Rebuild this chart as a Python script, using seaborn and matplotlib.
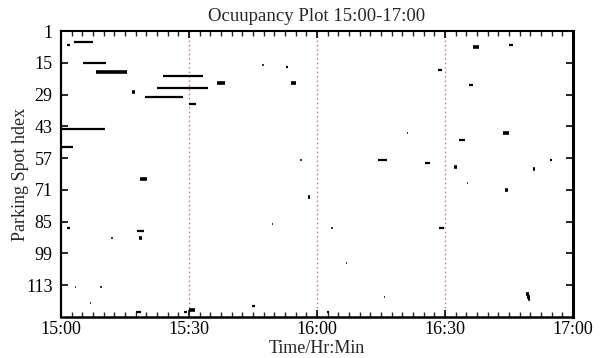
import numpy as np
import pandas as pd
import matplotlib
matplotlib.use("Agg")
import matplotlib.pyplot as plt
from matplotlib.ticker import MultipleLocator, FixedLocator
import seaborn as sns

# ---- data (minutes after 15:00, parking spot index) ----
spot = [7, 6, 15, 19, 28, 21, 26, 30, 33, 44, 52,
        16, 17, 24, 24, 58, 58,
        8, 7, 18, 25, 46, 49, 46, 59, 61, 62, 58,
        68, 71, 88, 117, 118, 119,
        74, 86, 88, 103, 118, 122, 125, 124,
        66, 88, 92, 89, 92, 114, 114, 121, 125, 125]
start = [1.5, 3.0, 5.2, 8.2, 16.6, 24.0, 22.4, 19.7, 29.9, 0.3, 0.3,
         47.0, 52.7, 36.5, 53.9, 56.0, 74.3,
         96.5, 104.9, 88.4, 95.7, 81.0, 93.2, 103.6, 85.3, 92.1, 110.6, 114.6,
         95.2, 104.1, 88.6, 109.1, 109.2, 109.4,
         57.8, 49.5, 63.3, 66.8, 75.6, 44.8, 62.3, 30.1,
         18.5, 1.3, 11.8, 17.9, 18.3, 3.2, 9.2, 6.8, 17.5, 28.9]
end = [2.0, 7.6, 10.6, 15.5, 17.3, 33.3, 34.5, 28.7, 31.7, 10.2, 2.8,
       47.6, 53.3, 38.5, 55.0, 56.4, 76.3,
       97.9, 105.9, 89.4, 96.5, 81.4, 94.7, 105.1, 86.4, 92.9, 111.2, 115.1,
       95.5, 104.7, 89.8, 109.7, 109.9, 109.9,
       58.4, 49.8, 63.7, 67.1, 76.0, 45.5, 62.8, 31.4,
       20.2, 2.0, 12.1, 19.4, 19.1, 3.5, 9.5, 7.1, 18.7, 29.5]
weight = ["n", "n", "n", "t", "t", "n", "n", "n", "n", "n", "n",
          "s", "n", "t", "t", "s", "n",
          "t", "n", "n", "n", "s", "n", "t", "n", "t", "t", "n",
          "s", "t", "n", "t", "t", "t",
          "t", "s", "s", "s", "s", "n", "n", "t",
          "t", "n", "s", "n", "t", "s", "s", "s", "n", "n"]

x_ticks = [0, 30, 60, 90, 120]
x_labels = ["15:00", "15:30", "16:00", "16:30", "17:00"]
y_ticks = [1, 15, 29, 43, 57, 71, 85, 99, 113]
guide_times = [30, 60, 90]

# ---- long-form table: two rows per segment ----
rows = []
for i, (s, a, b, w) in enumerate(zip(spot, start, end, weight)):
    rows.append({"seg": i, "t": a, "spot": s, "w": w})
    rows.append({"seg": i, "t": b, "spot": s, "w": w})
df = pd.DataFrame(rows)

sns.set_style("ticks")
plt.rcParams["font.family"] = ["Liberation Serif", "DejaVu Serif"]
plt.rcParams["mathtext.fontset"] = "stix"

fig = plt.figure(figsize=(6.05, 3.58), dpi=100)
ax = fig.add_axes([61 / 605, 1 - 317 / 358, (573 - 61) / 605, (317 - 31) / 358])

lw_map = {"s": 1.1, "n": 1.6, "t": 2.6}
for w, lw in lw_map.items():
    sub = df[df["w"] == w]
    if len(sub):
        sns.lineplot(data=sub, x="t", y="spot", units="seg", estimator=None,
                     sort=False, color="black", linewidth=lw, legend=False,
                     ax=ax, solid_capstyle="butt")

for g in guide_times:
    ax.axvline(g, color="#d06a6a", linestyle=(0, (1, 2.2)), linewidth=1.0, zorder=0)

ax.set_xlim(0, 120)
ax.set_ylim(127, 1)
ax.xaxis.set_major_locator(FixedLocator(x_ticks))
ax.set_xticklabels(x_labels)
ax.xaxis.set_minor_locator(MultipleLocator(2.5))
ax.yaxis.set_major_locator(FixedLocator(y_ticks))
ax.set_yticklabels([str(v) for v in y_ticks])

ax.tick_params(axis="both", which="major", direction="in", length=5, width=1.2,
               top=True, right=True, labelsize=13, colors="black")
ax.tick_params(axis="x", which="major", pad=3)
ax.tick_params(axis="y", which="major", pad=6)
ax.tick_params(axis="x", which="minor", direction="in", length=3.5, width=1.0,
               top=True, bottom=True)
ax.tick_params(axis="y", which="minor", left=False, right=False)

for side, w in [("left", 1.6), ("bottom", 1.8), ("top", 1.5), ("right", 2.2)]:
    ax.spines[side].set_visible(True)
    ax.spines[side].set_linewidth(w)
    ax.spines[side].set_color("black")

ax.set_title("Ocuupancy Plot 15:00-17:00", fontsize=13.5, pad=7)
ax.set_xlabel("Time/Hr:Min", fontsize=13, labelpad=1)
ax.set_ylabel("Parking Spot hdex", fontsize=13, labelpad=-2)

fig.savefig("out.png", dpi=100, facecolor="white")
